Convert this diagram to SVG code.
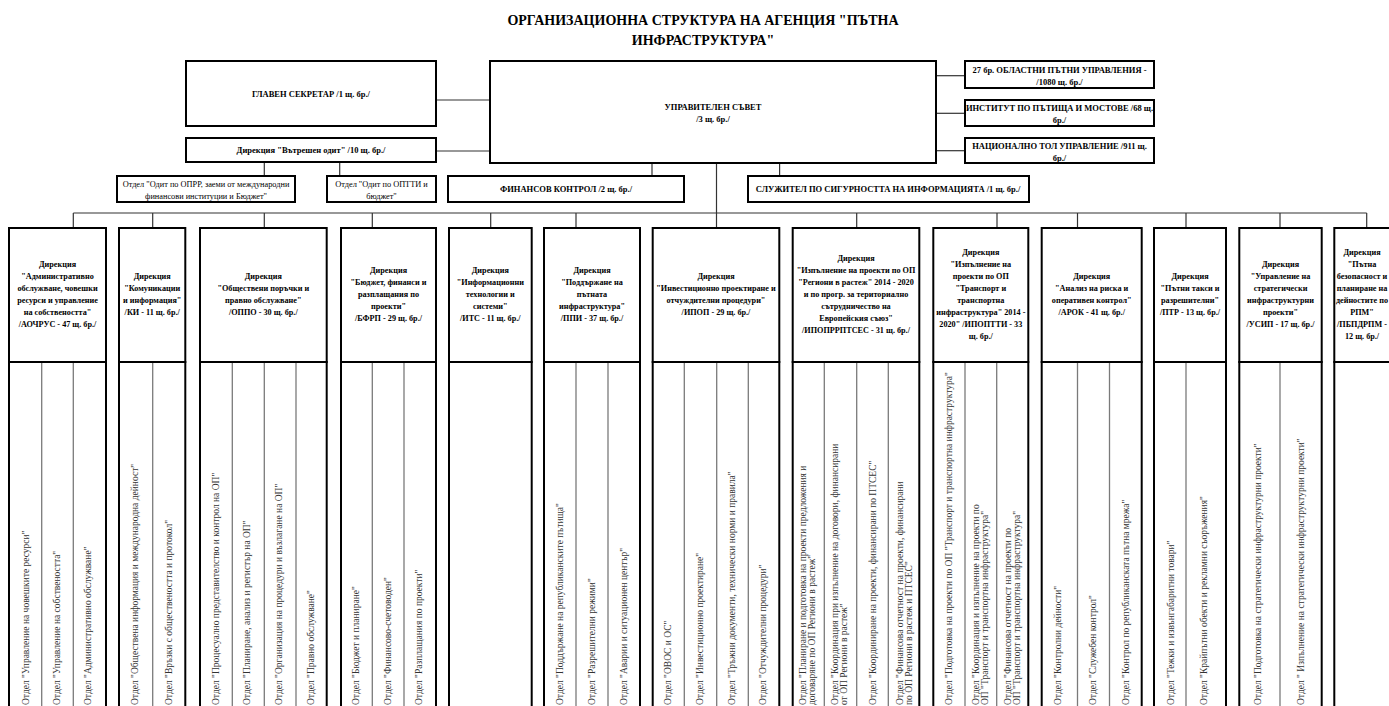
<svg xmlns="http://www.w3.org/2000/svg" width="1389" height="706" viewBox="0 0 1389 706">
<style>
.box{fill:#fff;stroke:#000;stroke-width:2}
.col{stroke:#7a7a7a;stroke-width:1.3}
.conn{stroke:#333;stroke-width:1.2;fill:none}
.title{font-family:"Liberation Serif","Times New Roman",serif;font-weight:bold;font-size:14px;text-anchor:middle;fill:#000}
.tb{font-family:"Liberation Serif","Times New Roman",serif;font-weight:bold;font-size:8.5px;text-anchor:middle;fill:#000}
.tn{font-family:"Liberation Serif","Times New Roman",serif;font-size:8.3px;text-anchor:middle;fill:#000}
.h{font-family:"Liberation Serif","Times New Roman",serif;font-weight:bold;font-size:8.2px;text-anchor:middle;fill:#000}
.d{font-family:"Liberation Serif","Times New Roman",serif;font-size:9.5px;fill:#333}
</style>
<rect width="1389" height="706" fill="#fff"/>
<text class="title" x="703" y="25">ОРГАНИЗАЦИОННА СТРУКТУРА НА АГЕНЦИЯ "ПЪТНА</text>
<text class="title" x="703" y="45">ИНФРАСТРУКТУРА"</text>

<g id="connectors">
<line class="conn" x1="436" y1="100" x2="490" y2="100"/>
<line class="conn" x1="436" y1="151" x2="490" y2="151"/>
<line class="conn" x1="264.3" y1="162" x2="264.3" y2="176"/>
<line class="conn" x1="339.7" y1="162" x2="339.7" y2="176"/>
<line class="conn" x1="652" y1="163" x2="652" y2="176"/>
<line class="conn" x1="779.6" y1="163" x2="779.6" y2="176"/>
<line class="conn" x1="936" y1="75.7" x2="965" y2="75.7"/>
<line class="conn" x1="936" y1="113.3" x2="965" y2="113.3"/>
<line class="conn" x1="936" y1="150.7" x2="965" y2="150.7"/>
<line class="conn" x1="716.5" y1="163" x2="716.5" y2="228"/>
<line class="conn" x1="73.3" y1="213" x2="1366.7" y2="213"/>
<line class="conn" x1="73.3" y1="213" x2="73.3" y2="228"/>
<line class="conn" x1="152.7" y1="213" x2="152.7" y2="228"/>
<line class="conn" x1="264.3" y1="213" x2="264.3" y2="228"/>
<line class="conn" x1="372.3" y1="213" x2="372.3" y2="228"/>
<line class="conn" x1="490.7" y1="213" x2="490.7" y2="228"/>
<line class="conn" x1="576" y1="213" x2="576" y2="228"/>
<line class="conn" x1="856.7" y1="213" x2="856.7" y2="228"/>
<line class="conn" x1="997" y1="213" x2="997" y2="228"/>
<line class="conn" x1="1077.5" y1="213" x2="1077.5" y2="228"/>
<line class="conn" x1="1186" y1="213" x2="1186" y2="228"/>
<line class="conn" x1="1280" y1="213" x2="1280" y2="228"/>
<line class="conn" x1="1366.7" y1="213" x2="1366.7" y2="228"/>
</g>

<g id="glaven">
<rect class="box" x="186" y="61" width="250" height="65"/>
<text class="tb" x="311" y="97">ГЛАВЕН СЕКРЕТАР /1 щ. бр./</text>
</g>
<g id="us">
<rect class="box" x="490" y="61" width="446" height="102"/>
<text class="tb" x="713" y="110">УПРАВИТЕЛЕН СЪВЕТ</text>
<text class="tb" x="713" y="122">/3 щ. бр./</text>
</g>
<g id="vodit">
<rect class="box" x="186" y="138" width="250" height="24"/>
<text class="tb" x="311" y="153">Дирекция "Вътрешен одит" /10 щ. бр./</text>
</g>
<g id="odit1">
<rect class="box" x="117" y="176" width="178" height="26"/>
<text class="tn" x="206" y="187">Отдел "Одит по ОПРР, заеми от международни</text>
<text class="tn" x="206" y="199">финансови институции и Бюджет"</text>
</g>
<g id="odit2">
<rect class="box" x="327" y="176" width="109" height="26"/>
<text class="tn" x="381.5" y="187">Отдел "Одит по ОПТТИ и</text>
<text class="tn" x="381.5" y="199">бюджет"</text>
</g>
<g id="fk">
<rect class="box" x="448" y="176" width="236" height="26"/>
<text class="tb" x="566" y="192">ФИНАНСОВ КОНТРОЛ /2 щ. бр./</text>
</g>
<g id="sig">
<rect class="box" x="748" y="176" width="281" height="26"/>
<text class="tb" x="888" y="192">СЛУЖИТЕЛ ПО СИГУРНОСТТА НА ИНФОРМАЦИЯТА /1 щ. бр./</text>
</g>
<g id="opu">
<rect class="box" x="965" y="61" width="189" height="27"/>
<text class="tb" x="1059.5" y="73">27 бр. ОБЛАСТНИ ПЪТНИ УПРАВЛЕНИЯ -</text>
<text class="tb" x="1059.5" y="85">/1080 щ. бр./</text>
</g>
<g id="ipm">
<rect class="box" x="965" y="100" width="189" height="26"/>
<text class="tb" x="1059.5" y="111">ИНСТИТУТ ПО ПЪТИЩА И МОСТОВЕ /68 щ.</text>
<text class="tb" x="1059.5" y="123">бр./</text>
</g>
<g id="ntu">
<rect class="box" x="965" y="138" width="189" height="25"/>
<text class="tb" x="1059.5" y="148.5">НАЦИОНАЛНО ТОЛ УПРАВЛЕНИЕ /911 щ.</text>
<text class="tb" x="1059.5" y="160.5">бр./</text>
</g>

<g id="d1">
<rect class="box" x="9" y="228" width="97" height="134"/>
<rect class="box" x="9" y="362" width="97" height="360"/>
<line class="col" x1="41.7" y1="363" x2="41.7" y2="706"/>
<line class="col" x1="73.3" y1="363" x2="73.3" y2="706"/>
<text class="h" x="57.5" y="267">Дирекция<tspan x="57.5" dy="12">"Административно</tspan><tspan x="57.5" dy="12">обслужване, човешки</tspan><tspan x="57.5" dy="12">ресурси и управление</tspan><tspan x="57.5" dy="12">на собствеността"</tspan><tspan x="57.5" dy="12">/АОЧРУС - 47 щ. бр./</tspan></text>
<text class="d" transform="translate(28.5,705) rotate(-90)">Отдел "Управление на човешките ресурси"</text>
<text class="d" transform="translate(59.5,705) rotate(-90)">Отдел "Управление на собствеността"</text>
<text class="d" transform="translate(91,705) rotate(-90)">Отдел "Административно обслужване"</text>
</g>
<g id="d2">
<rect class="box" x="119" y="228" width="66.3" height="134"/>
<rect class="box" x="119" y="362" width="66.3" height="360"/>
<line class="col" x1="152.7" y1="363" x2="152.7" y2="706"/>
<text class="h" x="152.2" y="279">Дирекция<tspan x="152.2" dy="12">"Комуникации</tspan><tspan x="152.2" dy="12">и информация"</tspan><tspan x="152.2" dy="12">/КИ - 11 щ. бр./</tspan></text>
<text class="d" transform="translate(138,705) rotate(-90)">Отдел "Обществена информация и международна дейност"</text>
<text class="d" transform="translate(172,705) rotate(-90)">Отдел "Връзки с обществеността и протокол"</text>
</g>
<g id="d3">
<rect class="box" x="200" y="228" width="126.7" height="134"/>
<rect class="box" x="200" y="362" width="126.7" height="360"/>
<line class="col" x1="232.3" y1="363" x2="232.3" y2="706"/>
<line class="col" x1="264.3" y1="363" x2="264.3" y2="706"/>
<line class="col" x1="296" y1="363" x2="296" y2="706"/>
<text class="h" x="263.3" y="279">Дирекция<tspan x="263.3" dy="12">"Обществени поръчки и</tspan><tspan x="263.3" dy="12">правно обслужване"</tspan><tspan x="263.3" dy="12">/ОППО - 30 щ. бр./</tspan></text>
<text class="d" transform="translate(218.5,705) rotate(-90)">Отдел "Процесуално представителство и контрол на ОП"</text>
<text class="d" transform="translate(250,705) rotate(-90)">Отдел "Планиране, анализ и регистър на ОП"</text>
<text class="d" transform="translate(282,705) rotate(-90)">Отдел "Организация на процедури и възлагане на ОП"</text>
<text class="d" transform="translate(314,705) rotate(-90)">Отдел "Правно обслужване"</text>
</g>
<g id="d4">
<rect class="box" x="341" y="228" width="95" height="134"/>
<rect class="box" x="341" y="362" width="95" height="360"/>
<line class="col" x1="372.3" y1="363" x2="372.3" y2="706"/>
<line class="col" x1="404" y1="363" x2="404" y2="706"/>
<text class="h" x="388.5" y="273">Дирекция<tspan x="388.5" dy="12">"Бюджет, финанси и</tspan><tspan x="388.5" dy="12">разплащания по</tspan><tspan x="388.5" dy="12">проекти"</tspan><tspan x="388.5" dy="12">/БФРП - 29 щ. бр./</tspan></text>
<text class="d" transform="translate(359,705) rotate(-90)">Отдел "Бюджет и планиране"</text>
<text class="d" transform="translate(390.5,705) rotate(-90)">Отдел "Финансово-счетоводен"</text>
<text class="d" transform="translate(422,705) rotate(-90)">Отдел "Разплащания по проекти"</text>
</g>
<g id="d5">
<rect class="box" x="449" y="228" width="82.7" height="134"/>
<rect class="box" x="449" y="362" width="82.7" height="360"/>
<text class="h" x="490.3" y="273">Дирекция<tspan x="490.3" dy="12">"Информационни</tspan><tspan x="490.3" dy="12">технологии и</tspan><tspan x="490.3" dy="12">системи"</tspan><tspan x="490.3" dy="12">/ИТС - 11 щ. бр./</tspan></text>
</g>
<g id="d6">
<rect class="box" x="544" y="228" width="96" height="134"/>
<rect class="box" x="544" y="362" width="96" height="360"/>
<line class="col" x1="576" y1="363" x2="576" y2="706"/>
<line class="col" x1="608" y1="363" x2="608" y2="706"/>
<text class="h" x="592" y="273">Дирекция<tspan x="592" dy="12">"Поддържане на</tspan><tspan x="592" dy="12">пътната</tspan><tspan x="592" dy="12">инфраструктура"</tspan><tspan x="592" dy="12">/ППИ - 37 щ. бр./</tspan></text>
<text class="d" transform="translate(563,705) rotate(-90)">Отдел "Поддържане на републиканските пътища"</text>
<text class="d" transform="translate(594.5,705) rotate(-90)">Отдел "Разрешителни режими"</text>
<text class="d" transform="translate(627,705) rotate(-90)">Отдел "Аварии и ситуационен център"</text>
</g>
<g id="d7">
<rect class="box" x="652.7" y="228" width="126.6" height="134"/>
<rect class="box" x="652.7" y="362" width="126.6" height="360"/>
<line class="col" x1="684.3" y1="363" x2="684.3" y2="706"/>
<line class="col" x1="716.7" y1="363" x2="716.7" y2="706"/>
<line class="col" x1="748.3" y1="363" x2="748.3" y2="706"/>
<text class="h" x="716" y="279">Дирекция<tspan x="716" dy="12">"Инвестиционно проектиране и</tspan><tspan x="716" dy="12">отчуждителни процедури"</tspan><tspan x="716" dy="12">/ИПОП - 29 щ. бр./</tspan></text>
<text class="d" transform="translate(670.5,705) rotate(-90)">Отдел "ОВОС и ОС"</text>
<text class="d" transform="translate(703,705) rotate(-90)">Отдел "Инвестиционно проектиране"</text>
<text class="d" transform="translate(734.5,705) rotate(-90)">Отдел "Тръжни документи, технически норми и правила"</text>
<text class="d" transform="translate(766,705) rotate(-90)">Отдел "Отчуждителни процедури"</text>
</g>
<g id="d8">
<rect class="box" x="792.7" y="228" width="126.6" height="134"/>
<rect class="box" x="792.7" y="362" width="126.6" height="360"/>
<line class="col" x1="824.3" y1="363" x2="824.3" y2="706"/>
<line class="col" x1="856.7" y1="363" x2="856.7" y2="706"/>
<line class="col" x1="888.3" y1="363" x2="888.3" y2="706"/>
<text class="h" x="856" y="261">Дирекция<tspan x="856" dy="12">"Изпълнение на проекти по ОП</tspan><tspan x="856" dy="12">"Региони в растеж" 2014 - 2020</tspan><tspan x="856" dy="12">и по прогр. за териториално</tspan><tspan x="856" dy="12">сътрудничество на</tspan><tspan x="856" dy="12">Европейския съюз"</tspan><tspan x="856" dy="12">/ИПОПРРПТСЕС - 31 щ. бр./</tspan></text>
<text class="d" transform="translate(806,705) rotate(-90)">Отдел "Планиране и подготовка на проекти предложения и<tspan x="0" dy="9.3">договаряне по ОП Региони в растеж"</tspan></text>
<text class="d" transform="translate(838,705) rotate(-90)">Отдел "Координация при изпълнение на договори, финансирани<tspan x="0" dy="9.3">от ОП Региони в растеж"</tspan></text>
<text class="d" transform="translate(875.5,705) rotate(-90)">Отдел "Координиране на проекти, финансирани по ПТСЕС"</text>
<text class="d" transform="translate(903,705) rotate(-90)">Отдел "Финансова отчетност на проекти, финансирани<tspan x="0" dy="9.3">по ОП Региони в растеж и ПТСЕС"</tspan></text>
</g>
<g id="d9">
<rect class="box" x="933.3" y="228" width="95" height="134"/>
<rect class="box" x="933.3" y="362" width="95" height="360"/>
<line class="col" x1="965" y1="363" x2="965" y2="706"/>
<line class="col" x1="996.7" y1="363" x2="996.7" y2="706"/>
<text class="h" x="980.8" y="255">Дирекция<tspan x="980.8" dy="12">"Изпълнение на</tspan><tspan x="980.8" dy="12">проекти по ОП</tspan><tspan x="980.8" dy="12">"Транспорт и</tspan><tspan x="980.8" dy="12">транспортна</tspan><tspan x="980.8" dy="12">инфраструктура" 2014 -</tspan><tspan x="980.8" dy="12">2020" /ИПОПТТИ - 33</tspan><tspan x="980.8" dy="12">щ. бр./</tspan></text>
<text class="d" transform="translate(951.5,705) rotate(-90)">Отдел "Подготовка на проекти по ОП "Транспорт и транспортна инфраструктура"</text>
<text class="d" transform="translate(979,705) rotate(-90)">Отдел "Координация и изпълнение на проекти по<tspan x="0" dy="9.3">ОП "Транспорт и транспортна инфраструктура"</tspan></text>
<text class="d" transform="translate(1010.5,705) rotate(-90)">Отдел "Финансова отчетност на проекти по<tspan x="0" dy="9.3">ОП "Транспорт и транспортна инфраструктура"</tspan></text>
</g>
<g id="d10">
<rect class="box" x="1041.7" y="228" width="100" height="134"/>
<rect class="box" x="1041.7" y="362" width="100" height="360"/>
<line class="col" x1="1077.5" y1="363" x2="1077.5" y2="706"/>
<line class="col" x1="1109.5" y1="363" x2="1109.5" y2="706"/>
<text class="h" x="1091.7" y="279">Дирекция<tspan x="1091.7" dy="12">"Анализ на риска и</tspan><tspan x="1091.7" dy="12">оперативен контрол"</tspan><tspan x="1091.7" dy="12">/АРОК - 41 щ. бр./</tspan></text>
<text class="d" transform="translate(1061,705) rotate(-90)">Отдел "Контролни дейности"</text>
<text class="d" transform="translate(1095.5,705) rotate(-90)">Отдел "Служебен контрол"</text>
<text class="d" transform="translate(1128.5,705) rotate(-90)">Отдел "Контрол по републиканската пътна мрежа"</text>
</g>
<g id="d11">
<rect class="box" x="1154" y="228" width="72" height="134"/>
<rect class="box" x="1154" y="362" width="72" height="360"/>
<line class="col" x1="1186" y1="363" x2="1186" y2="706"/>
<text class="h" x="1190" y="279">Дирекция<tspan x="1190" dy="12">"Пътни такси и</tspan><tspan x="1190" dy="12">разрешителни"</tspan><tspan x="1190" dy="12">/ПТР - 13 щ. бр./</tspan></text>
<text class="d" transform="translate(1174,705) rotate(-90)">Отдел "Тежки и извънгабаритни товари"</text>
<text class="d" transform="translate(1207,705) rotate(-90)">Отдел "Крайпътни обекти и рекламни съоръжения"</text>
</g>
<g id="d12">
<rect class="box" x="1239.3" y="228" width="82.4" height="134"/>
<rect class="box" x="1239.3" y="362" width="82.4" height="360"/>
<line class="col" x1="1280" y1="363" x2="1280" y2="706"/>
<text class="h" x="1280.5" y="267">Дирекция<tspan x="1280.5" dy="12">"Управление на</tspan><tspan x="1280.5" dy="12">стратегически</tspan><tspan x="1280.5" dy="12">инфраструктурни</tspan><tspan x="1280.5" dy="12">проекти"</tspan><tspan x="1280.5" dy="12">/УСИП - 17 щ. бр./</tspan></text>
<text class="d" transform="translate(1261,705) rotate(-90)">Отдел "Подготовка на стратегически инфраструктурни проекти"</text>
<text class="d" transform="translate(1304,705) rotate(-90)">Отдел " Изпълнение на стратегически инфраструктурни проекти"</text>
</g>
<g id="d13">
<rect class="box" x="1334.3" y="228" width="90" height="134"/>
<rect class="box" x="1334.3" y="362" width="90" height="360"/>
<text class="h" x="1362" y="255">Дирекция<tspan x="1362" dy="12">"Пътна</tspan><tspan x="1362" dy="12">безопасност и</tspan><tspan x="1362" dy="12">планиране на</tspan><tspan x="1362" dy="12">дейностите по</tspan><tspan x="1362" dy="12">РПМ"</tspan><tspan x="1362" dy="12">/ПБПДРПМ -</tspan><tspan x="1362" dy="12">12 щ. бр./</tspan></text>
</g>
</svg>
